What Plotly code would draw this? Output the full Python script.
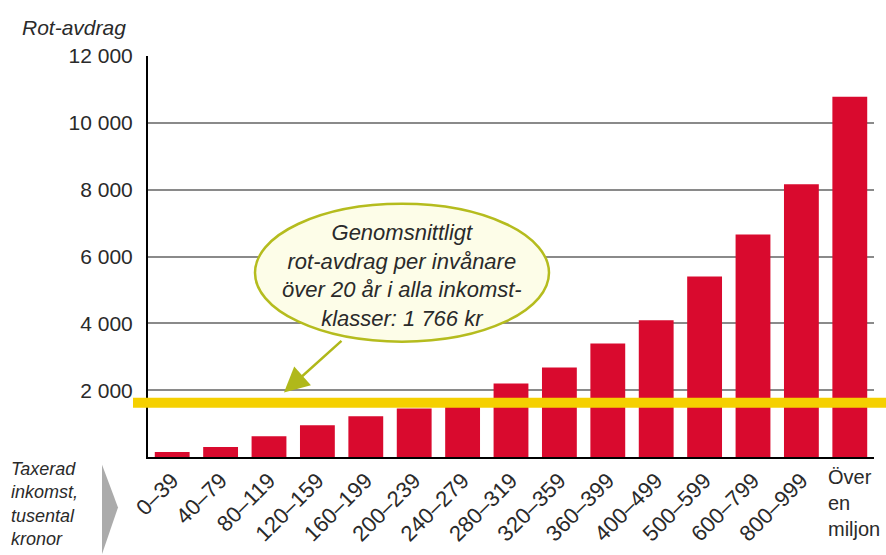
import plotly.graph_objects as go

categories = ["0–39", "40–79", "80–119", "120–159", "160–199", "200–239", "240–279",
              "280–319", "320–359", "360–399", "400–499", "500–599", "600–799",
              "800–999", "Över en miljon"]
values = [150, 300, 620, 950, 1220, 1450, 1680, 2200, 2680, 3400, 4090, 5400, 6660, 8160, 10780]
tick_vals = [2000, 4000, 6000, 8000, 10000, 12000]
tick_text = ["2 000", "4 000", "6 000", "8 000", "10 000", "12 000"]
average_line = 1620  # drawn position of the average line
callout_lines = ["Genomsnittligt", "rot-avdrag per invånare", "över 20 år i alla inkomst-", "klasser: 1 766 kr"]
x_title_lines = ["Taxerad", "inkomst,", "tusental", "kronor"]
last_label_lines = ["Över", "en", "miljon"]

W, H = 886, 555
L, R, T, B = 148, 12, 56, 97.5
PW, PH = W - L - R, H - T - B

def px(x):
    return (x - L) / PW

def py(y):
    return (H - B - y) / PH

FONT = "Liberation Sans, Arial, Helvetica, sans-serif"
TXT = "#2a2a2a"

ticktext_x = categories[:-1] + [""]

fig = go.Figure()
fig.add_trace(go.Bar(x=categories, y=values, marker=dict(color="#D90A2E", line=dict(width=0)),
                     width=0.72, hoverinfo="x+y"))

fig.update_layout(
    width=W, height=H,
    margin=dict(l=L, r=R, t=T, b=B, autoexpand=False),
    paper_bgcolor="white", plot_bgcolor="white",
    showlegend=False,
    font=dict(family=FONT, color=TXT),
    xaxis=dict(
        tickmode="array", tickvals=categories, ticktext=ticktext_x,
        tickangle=-45, tickfont=dict(size=22, color=TXT),
        showgrid=False, showline=True, linecolor="black", linewidth=2,
        ticks="", range=[-0.5, 14.5],
    ),
    yaxis=dict(
        range=[0, 12000], tickmode="array", tickvals=tick_vals, ticktext=tick_text,
        tickfont=dict(size=21, color=TXT),
        showgrid=True, gridcolor="#8a8a8a", gridwidth=1.5,
        showline=True, linecolor="black", linewidth=2,
        ticks="outside", ticklen=9, tickcolor="rgba(0,0,0,0)",
        zeroline=False,
    ),
)

shapes = []
# average line
shapes.append(dict(type="line", xref="paper", yref="y", x0=px(133), x1=px(886),
                   y0=average_line, y1=average_line, line=dict(color="#F5D000", width=10), layer="above"))
# gray triangle pointer
tri = [(102, 465), (118, 508), (102, 555)]
path = "M " + " L ".join(f"{px(a):.4f},{py(b):.4f}" for a, b in tri) + " Z"
shapes.append(dict(type="path", xref="paper", yref="paper", path=path,
                   fillcolor="#ababab", line=dict(width=0), layer="above"))
# callout ellipse
shapes.append(dict(type="circle", xref="paper", yref="paper", x0=px(255), x1=px(549),
                   y0=py(342), y1=py(204), fillcolor="#FDFDE8",
                   line=dict(color="#B5BC1E", width=2.5), layer="above"))
fig.update_layout(shapes=shapes)

# arrow from ellipse to the line
fig.add_annotation(x=(283 - 171) / 48.5, y=(H - B - 393) / (PH / 12000), xref="x", yref="y",
                   ax=59, ay=-53, text="", showarrow=True, arrowhead=2, arrowsize=2,
                   arrowwidth=2.5, arrowcolor="#B0B81A")
# callout text
fig.add_annotation(x=px(402), y=py(276), xref="paper", yref="paper",
                   text="<br>".join(callout_lines), showarrow=False, align="center",
                   font=dict(size=22, color=TXT, family=FONT, style="italic"))
# y title
fig.add_annotation(x=px(20), y=py(27), xref="paper", yref="paper", xanchor="left", yanchor="middle",
                   text="Rot-avdrag", showarrow=False,
                   font=dict(size=21, color=TXT, family=FONT, style="italic"))
# x title
fig.add_annotation(x=px(10), y=py(459), xref="paper", yref="paper", xanchor="left", yanchor="top",
                   text="<br>".join(x_title_lines), showarrow=False, align="left", borderpad=0,
                   font=dict(size=18, color=TXT, family=FONT, style="italic"))
# last category label
fig.add_annotation(x=13.5, y=py(465), xref="x", yref="paper", xanchor="left", yanchor="top",
                   text="<br>".join(last_label_lines), showarrow=False, align="left",
                   font=dict(size=20, color=TXT, family=FONT))

fig.write_html("out.html", post_script="document.body.style.margin='0';",
               config={"displayModeBar": False})
